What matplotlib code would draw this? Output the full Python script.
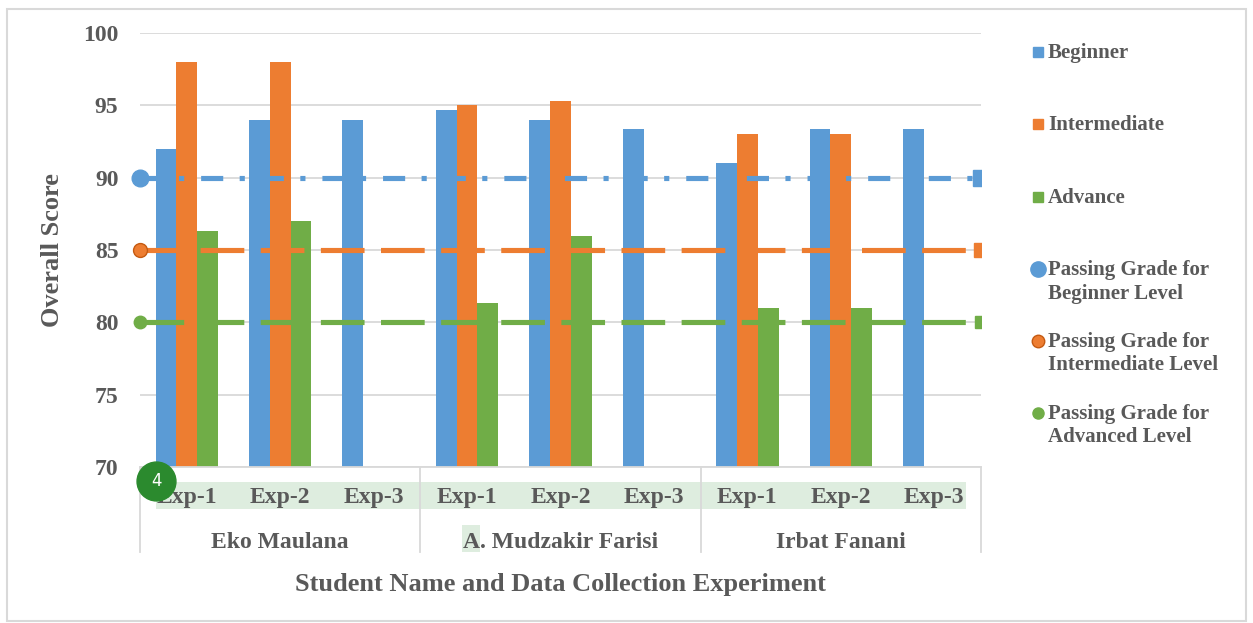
import matplotlib.pyplot as plt
from matplotlib.patches import Rectangle
from matplotlib.lines import Line2D
import numpy as np

# data
students = ['Eko Maulana', 'A. Mudzakir Farisi', 'Irbat Fanani']
experiments = ['Exp-1', 'Exp-2', 'Exp-3']
beginner = [92, 94, 94, 94.67, 94, 93.33, 91, 93.33, 93.33]
intermediate = [98, 98, np.nan, 95, 95.33, np.nan, 93, 93, np.nan]
advance = [86.33, 87, np.nan, 81.33, 86, np.nan, 81, 81, np.nan]
passing = [90, 85, 80]
series_names = ['Beginner', 'Intermediate', 'Advance']
passing_names = ['Passing Grade for\nBeginner Level',
                 'Passing Grade for\nIntermediate Level',
                 'Passing Grade for\nAdvanced Level']

blue = '#5b9bd5'
orange = '#ed7d31'
green = '#70ad47'
txt = '#595959'
grid = '#d9d9d9'
font = 'Liberation Serif'

W, H = 1253, 623
fig = plt.figure(figsize=(W / 100, H / 100), dpi=100)


def fx(px):
    return px / W


def fy(py):
    return 1 - py / H


ax = fig.add_axes([fx(140), fy(467), fx(981) - fx(140), fy(33) - fy(467)])
ax.patch.set_visible(False)

x = np.arange(9)
w = 0.222
ax.bar(x - w, beginner, w, color=blue, zorder=2)
ax.bar(x, intermediate, w, color=orange, zorder=2)
ax.bar(x + w, advance, w, color=green, zorder=2)

ax.set_xlim(-0.5, 8.5)
ax.set_ylim(70, 100)
ax.set_yticks([70, 75, 80, 85, 90, 95, 100])
ax.yaxis.grid(True, color=grid, lw=1.3, zorder=0)
ax.set_axisbelow(True)
for s in ['top', 'right', 'left']:
    ax.spines[s].set_visible(False)
ax.spines['bottom'].set_color(grid)
ax.spines['bottom'].set_linewidth(1.3)
ax.tick_params(length=0)
ax.tick_params(axis='y', pad=15.5, labelsize=17, labelcolor=txt)
for lab in ax.get_yticklabels():
    lab.set_fontfamily(font)
    lab.set_fontweight('bold')

# category labels, two levels
ax.set_xticks(x)
ax.set_xticklabels(experiments * 3, fontfamily=font, fontweight='bold',
                   fontsize=17, color=txt)
ax.tick_params(axis='x', pad=14.5)
trans = ax.get_xaxis_transform()
for i, name in enumerate(students):
    ax.text(3 * i + 1, -0.175, name, transform=trans, ha='center', va='center',
            fontfamily=font, fontweight='bold', fontsize=17, color=txt)
for xs in [-0.5, 2.5, 5.5, 8.5]:
    ax.plot([xs, xs], [0, -0.196], transform=trans, color=grid, lw=1.3,
            clip_on=False)

# passing grade lines
styles = [(blue, (0, (4.3, 3.2, 1.0, 3.3)), 12),
          (orange, (0, (8.5, 3.2)), 10),
          (green, (0, (8.5, 3.2)), 9)]
for val, (c, ls, ms) in zip(passing, styles):
    ax.plot([-0.5, 8.5], [val, val], color=c, lw=3.7, linestyle=ls, zorder=3,
            clip_on=False)
    mec = '#c55a11' if c == orange else c
    ax.plot([-0.5], [val], 'o', color=c, mec=mec, ms=ms, zorder=4,
            clip_on=False)
    ax.plot([8.5], [val], 's', color=c, ms=ms, zorder=4, clip_on=True)

fig.text(fx(53), fy(250), 'Overall Score', rotation=90, ha='center',
         va='center', fontfamily=font, fontweight='bold', fontsize=19,
         color=txt)
fig.text(fx(560), fy(584), 'Student Name and Data Collection Experiment',
         ha='center', va='center', fontfamily=font, fontweight='bold',
         fontsize=19, color=txt)

# legend drawn by hand
rows = [52, 124, 197]
for r, c, name in zip(rows, [blue, orange, green], series_names):
    fig.add_artist(Line2D([fx(1038)], [fy(r)], marker='s', ms=7.5, color=c,
                          transform=fig.transFigure))
    fig.text(fx(1048), fy(r + 1), name, ha='left', va='center',
             fontfamily=font, fontweight='bold', fontsize=15, color=txt)
rows2 = [269, 341, 413]
for r, (c, _, _), ms, name in zip(rows2, styles, [11, 9, 8], passing_names):
    mec = '#c55a11' if c == orange else c
    fig.add_artist(Line2D([fx(1038)], [fy(r)], marker='o', ms=ms, color=c,
                          mec=mec, transform=fig.transFigure))
    fig.text(fx(1048), fy(r + 13), name, ha='left', va='center',
             fontfamily=font, fontweight='bold', fontsize=15, color=txt,
             linespacing=1.2)

# document highlights (behind the labels) and outer border
fig.add_artist(Rectangle((fx(156), fy(509)), fx(966) - fx(156),
                         fy(482) - fy(509), transform=fig.transFigure,
                         color='#deeddf', lw=0, zorder=-1))
fig.add_artist(Rectangle((fx(462), fy(552)), fx(480) - fx(462),
                         fy(525) - fy(552), transform=fig.transFigure,
                         color='#deeddf', lw=0, zorder=-1))
fig.add_artist(Rectangle((fx(7), fy(621)), fx(1246) - fx(7), fy(9) - fy(621),
                         transform=fig.transFigure, fill=False, ec=grid,
                         lw=1.5))
fig.add_artist(Line2D([fx(156)], [fy(481)], marker='o', ms=28,
                      color='#2b8a2e', transform=fig.transFigure, zorder=6))
fig.text(fx(156), fy(481), '4', ha='center', va='center', color='white',
         fontsize=12, fontfamily='DejaVu Sans', zorder=7)

fig.savefig('out.png', dpi=100)
